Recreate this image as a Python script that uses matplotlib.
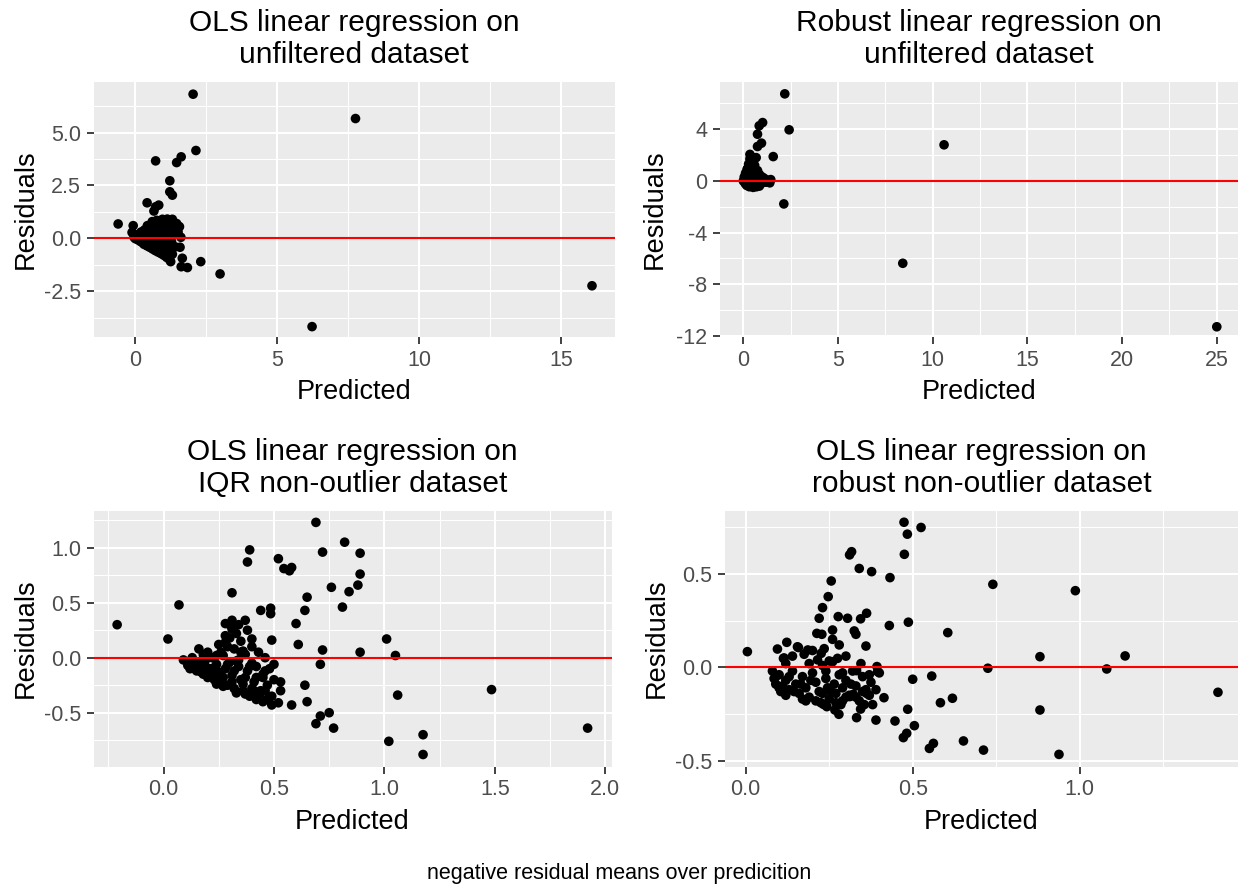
import matplotlib
matplotlib.use("Agg")
import matplotlib.pyplot as plt
import numpy as np

plt.rcParams['font.family'] = ['Liberation Sans', 'DejaVu Sans']

W, H = 1238, 888

# ---------------- data ----------------
# Panel 1: OLS on unfiltered dataset
p1_x = [2.03, 7.75, 6.22, 16.08, 2.13, 1.61, 1.45, 0.71, 1.21, 1.21, 1.30, 0.41, 0.71, 0.82, 0.65,
        -0.61, -0.08, -0.12, 2.98, 2.30, 1.83, 1.61, 1.65, 1.57, 1.53, 1.12, 0.59, 1.24,
        -0.05, 0.0, 0.05, 0.1, 0.12, 0.15, 0.18, 0.2, 0.22, 0.25, 0.28, 0.3, 0.32, 0.35, 0.37, 0.4,
        0.42, 0.45, 0.47, 0.5, 0.52, 0.55, 0.57, 0.6, 0.62, 0.65, 0.67, 0.7, 0.72, 0.75, 0.77, 0.8,
        0.82, 0.85, 0.87, 0.9, 0.92, 0.95, 0.97, 1.0, 1.02, 1.05, 1.07, 1.1, 1.12, 1.15, 1.17, 1.2,
        1.22, 1.25, 1.27, 1.3, 1.35, 1.38, 1.4, 1.45, 1.5, 1.55, 1.6, 1.3, 0.95, 0.75, 0.6, 0.3,
        0.45, 0.65, 0.85, 1.05, 1.25, 0.2, 0.1, 0.35, 0.55, 0.8, 1.0, 0.7, 0.4, 1.15, 0.9]
p1_y = [6.81, 5.66, -4.17, -2.24, 4.15, 3.85, 3.58, 3.66, 2.72, 2.20, 2.04, 1.68, 1.49, 1.57, 1.29,
        0.68, 0.60, 0.28, -1.68, -1.10, -1.38, -1.34, -0.94, -0.42, 0.55, 0.91, 0.79, -1.10,
        0.05, -0.02, 0.1, -0.08, 0.2, 0.0, -0.15, 0.3, 0.12, -0.2, 0.05, -0.28, 0.4, 0.18, -0.1, -0.35,
        0.6, 0.25, -0.02, -0.42, 0.1, 0.45, -0.25, -0.5, 0.7, 0.3, -0.12, -0.58, 0.05, 0.55, -0.35, -0.65,
        0.2, 0.75, -0.2, -0.72, 0.4, 0.0, -0.5, -0.8, 0.6, 0.15, -0.3, -0.9, 0.85, 0.35, -0.6, -1.0,
        0.1, 0.65, -0.15, -0.75, 0.45, 0.2, -0.4, 0.7, 0.3, 0.55, 0.05, 0.9, 0.9, 0.85, 0.35, 0.15,
        -0.2, -0.4, -0.55, -0.7, -0.45, -0.05, 0.05, -0.22, -0.3, 0.0, 0.3, 0.15, 0.08, -0.2, -0.3]

# Panel 2: robust regression on unfiltered dataset
p2_x = [2.19, 2.42, 1.02, 0.84, 0.75, 0.96, 0.75, 1.58, 2.14, 8.42, 10.6, 25.0,
        0.0, 0.05, 0.1, 0.12, 0.15, 0.18, 0.2, 0.22, 0.25, 0.28, 0.3, 0.32, 0.35, 0.35, 0.38, 0.4,
        0.42, 0.45, 0.48, 0.5, 0.52, 0.55, 0.58, 0.6, 0.62, 0.65, 0.68, 0.7, 0.72, 0.75, 0.78, 0.8,
        0.85, 0.9, 0.95, 1.0, 1.05, 1.1, 1.2, 1.3, 1.4, 1.45, 0.25, 0.45, 0.6, 0.15, 0.3, 0.55, 0.85, 0.4]
p2_y = [6.73, 3.95, 4.51, 4.26, 3.61, 2.92, 2.66, 1.88, -1.78, -6.37, 2.79, -11.28,
        0.0, 0.3, -0.2, 0.6, 0.1, -0.35, 0.9, 0.4, -0.1, 1.3, 0.2, -0.45, 1.7, 2.05, 0.7, 0.0,
        1.1, -0.3, 1.5, 0.4, -0.5, 0.9, 0.15, 1.2, -0.2, 0.55, 1.8, -0.45, 0.3, 0.8, 0.0, -0.3,
        0.5, 0.15, -0.2, 0.3, -0.05, 0.2, -0.1, 0.05, -0.15, 0.1, 1.0, 0.6, 0.7, 0.35, -0.25, -0.1, -0.4, 1.9]

# Panel 3: OLS on IQR non-outlier dataset
p3_x = [-0.21, 0.02, 0.07, 0.39, 0.38, 0.31, 0.52, 0.545, 0.57, 0.58, 0.69, 0.72, 0.82, 0.89, 0.89,
        0.88, 0.84, 0.76, 0.81, 0.65, 0.64, 0.60, 0.44, 0.485, 0.485, 0.37, 0.31, 0.28, 0.61, 0.49,
        0.40, 0.72, 0.89, 1.01, 1.05, 1.06, 1.02, 0.71, 0.64, 0.65, 0.58, 0.71, 0.75, 0.69, 0.77,
        0.53, 0.53, 0.52, 0.49, 0.46, 0.45, 1.485, 1.175, 1.175, 1.92,
        0.09, 0.11, 0.12, 0.13, 0.14, 0.15, 0.16, 0.17, 0.18, 0.19, 0.2, 0.2, 0.21, 0.22, 0.23, 0.24,
        0.25, 0.25, 0.26, 0.27, 0.28, 0.28, 0.29, 0.3, 0.3, 0.31, 0.32, 0.32, 0.33, 0.34, 0.35, 0.35,
        0.36, 0.37, 0.38, 0.38, 0.39, 0.4, 0.4, 0.41, 0.42, 0.43, 0.44, 0.45, 0.45, 0.46, 0.47, 0.48,
        0.27, 0.22, 0.33, 0.18, 0.36, 0.42, 0.3, 0.26, 0.34, 0.16, 0.24, 0.29, 0.37, 0.4, 0.43, 0.5, 0.5,
        0.12, 0.14, 0.17, 0.19, 0.21, 0.23, 0.24, 0.26, 0.27, 0.29, 0.31, 0.32, 0.33, 0.34, 0.36, 0.37,
        0.39, 0.41, 0.42, 0.44, 0.46, 0.47, 0.49, 0.48, 0.35, 0.28, 0.31]
p3_y = [0.30, 0.17, 0.48, 0.98, 0.87, 0.59, 0.90, 0.81, 0.79, 0.82, 1.23, 0.96, 1.05, 0.95, 0.76,
        0.66, 0.60, 0.64, 0.46, 0.55, 0.43, 0.31, 0.43, 0.45, 0.40, 0.34, 0.34, 0.31, 0.12, 0.16,
        0.17, 0.07, 0.05, 0.17, 0.02, -0.34, -0.76, -0.06, -0.25, -0.40, -0.43, -0.53, -0.50, -0.60, -0.64,
        -0.22, -0.30, -0.41, -0.43, -0.12, -0.18, -0.29, -0.70, -0.88, -0.64,
        -0.02, -0.07, -0.1, 0.0, -0.05, -0.12, 0.08, -0.03, -0.15, -0.08, 0.05, -0.18, -0.1, 0.0, -0.2, -0.06,
        0.12, -0.13, -0.22, 0.02, -0.1, 0.2, -0.25, -0.04, 0.3, -0.16, 0.08, -0.28, 0.22, -0.08, -0.2, 0.15,
        -0.3, 0.03, -0.12, 0.25, -0.35, -0.05, 0.1, -0.22, -0.38, 0.05, -0.3, -0.15, -0.4, 0.0, -0.25, -0.36,
        -0.18, -0.14, -0.03, 0.03, 0.06, -0.08, 0.18, 0.05, 0.3, -0.09, -0.24, 0.1, -0.18, -0.28, -0.33, -0.2, -0.06,
        -0.04, -0.1, -0.13, -0.02, -0.16, -0.09, 0.02, -0.16, -0.26, -0.06, -0.22, -0.12, -0.32, -0.02, -0.24, -0.33,
        -0.08, -0.3, -0.18, -0.37, -0.3, -0.38, -0.35, -0.1, 0.05, 0.14, 0.26]

# Panel 4: OLS on robust non-outlier dataset
p4_x = [0.005, 0.474, 0.484, 0.525, 0.475, 0.311, 0.317, 0.34, 0.377, 0.432, 0.256, 0.74, 0.247,
        0.23, 0.22, 0.277, 0.305, 0.344, 0.362, 0.43, 0.487, 0.605, 0.213, 0.228, 0.26, 0.325, 0.33,
        0.36, 0.095, 0.123, 0.158, 0.186, 0.113, 0.226, 0.275, 0.25, 0.393, 0.395, 0.37, 0.332, 0.5,
        0.557, 0.725, 0.881, 0.881, 0.619, 0.583, 0.414, 0.485, 0.505, 0.482, 0.472, 0.562, 0.55,
        0.652, 0.712, 0.447, 0.39, 0.332, 0.344, 0.279, 0.267, 0.233, 0.243, 0.29, 0.312, 0.322, 0.362,
        0.987, 0.938, 1.081, 1.136, 1.414,
        0.08, 0.085, 0.09, 0.1, 0.11, 0.115, 0.12, 0.13, 0.14, 0.15, 0.155, 0.16, 0.17, 0.175, 0.18,
        0.19, 0.2, 0.2, 0.21, 0.22, 0.225, 0.23, 0.24, 0.245, 0.25, 0.26, 0.265, 0.27, 0.28, 0.285,
        0.29, 0.3, 0.31, 0.32, 0.33, 0.34, 0.35, 0.36, 0.14, 0.19, 0.235, 0.28, 0.26, 0.3, 0.17, 0.12,
        0.105, 0.215, 0.345, 0.375, 0.4, 0.39, 0.38,
        0.09, 0.1, 0.12, 0.13, 0.145, 0.165, 0.18, 0.195, 0.21, 0.23, 0.24, 0.255, 0.27, 0.29, 0.3,
        0.315, 0.33, 0.35, 0.37, 0.355]
p4_y = [0.084, 0.778, 0.714, 0.75, 0.606, 0.603, 0.62, 0.53, 0.513, 0.481, 0.463, 0.445, 0.379,
        0.32, 0.263, 0.272, 0.263, 0.26, 0.29, 0.224, 0.242, 0.186, 0.182, 0.177, 0.2, 0.195, 0.177,
        0.114, 0.098, 0.134, 0.106, 0.093, 0.048, 0.075, 0.048, 0.034, 0.004, -0.023, -0.04, -0.018, -0.064,
        -0.047, -0.005, 0.057, -0.229, -0.166, -0.19, -0.163, -0.225, -0.313, -0.354, -0.377, -0.408, -0.435,
        -0.395, -0.444, -0.288, -0.283, -0.27, -0.224, -0.252, -0.229, -0.199, -0.211, -0.18, -0.157, -0.145, -0.14,
        0.411, -0.467, -0.009, 0.061, -0.134,
        -0.02, -0.06, -0.09, -0.04, -0.1, 0.05, -0.07, -0.12, -0.02, -0.09, 0.11, -0.14, -0.05, 0.07, -0.11,
        -0.16, -0.03, 0.09, -0.08, -0.13, -0.19, 0.01, -0.06, -0.11, -0.17, 0.03, -0.09, -0.14, -0.04, -0.2,
        -0.11, -0.07, -0.15, -0.02, -0.1, -0.18, -0.05, -0.12, 0.06, 0.02, 0.1, 0.12, 0.15, 0.06, -0.17, 0.02,
        -0.13, 0.04, 0.02, -0.08, -0.03, -0.12, -0.2,
        -0.05, -0.11, -0.15, -0.05, -0.13, -0.09, -0.18, -0.07, -0.18, -0.14, -0.02, -0.13, -0.19, -0.03, -0.16,
        -0.09, -0.16, -0.13, -0.15, -0.2]

titles = ["OLS linear regression on\nunfiltered dataset",
          "Robust linear regression on\nunfiltered dataset",
          "OLS linear regression on\nIQR non-outlier dataset",
          "OLS linear regression on\nrobust non-outlier dataset"]

p1_xticks = [0, 5, 10, 15]
p1_xlabels = ["0", "5", "10", "15"]
p1_yticks = [-2.5, 0.0, 2.5, 5.0]
p1_ylabels = ["-2.5", "0.0", "2.5", "5.0"]
p2_xticks = [0, 5, 10, 15, 20, 25]
p2_xlabels = ["0", "5", "10", "15", "20", "25"]
p2_yticks = [-12, -8, -4, 0, 4]
p2_ylabels = ["-12", "-8", "-4", "0", "4"]
p3_xticks = [0.0, 0.5, 1.0, 1.5, 2.0]
p3_xlabels = ["0.0", "0.5", "1.0", "1.5", "2.0"]
p3_yticks = [-0.5, 0.0, 0.5, 1.0]
p3_ylabels = ["-0.5", "0.0", "0.5", "1.0"]
p4_xticks = [0.0, 0.5, 1.0]
p4_xlabels = ["0.0", "0.5", "1.0"]
p4_yticks = [-0.5, 0.0, 0.5]
p4_ylabels = ["-0.5", "0.0", "0.5"]

caption = "negative residual means over predicition"

# ---------------- layout (pixel boxes: left, right, top, bottom) ----------------
boxes = [(93.5, 615, 81.7, 337), (720, 1238, 81.7, 337),
         (93.5, 611.7, 510.5, 766.5), (725, 1238, 510.5, 766.5)]
xlims = [(-1.478, 16.89), (-1.23, 26.12), (-0.317, 2.029), (-0.062, 1.474)]
ylims = [(-4.66, 7.40), (-12.07, 7.67), (-0.989, 1.338), (-0.532, 0.841)]
ylab_x = [26, 655, 26, 657]

fig = plt.figure(figsize=(W / 100, H / 100), dpi=100)
fig.patch.set_facecolor("white")

def fx(px):
    return px / W

def fy(py):
    return 1 - py / H

panels = [(p1_x, p1_y, p1_xticks, p1_xlabels, p1_yticks, p1_ylabels),
          (p2_x, p2_y, p2_xticks, p2_xlabels, p2_yticks, p2_ylabels),
          (p3_x, p3_y, p3_xticks, p3_xlabels, p3_yticks, p3_ylabels),
          (p4_x, p4_y, p4_xticks, p4_xlabels, p4_yticks, p4_ylabels)]

def minor_breaks(ticks, lim):
    step = ticks[1] - ticks[0]
    out = []
    t = ticks[0] - step / 2
    while t > lim[0]:
        out.append(t)
        t -= step
    t = ticks[0] + step / 2
    while t < lim[1]:
        out.append(t)
        t += step
    return [m for m in out if lim[0] < m < lim[1]]

for i, (xs, ys, xt, xl, yt, yl) in enumerate(panels):
    l, r, t, b = boxes[i]
    ax = fig.add_axes([fx(l), fy(b), fx(r) - fx(l), (b - t) / H])
    ax.set_facecolor("#EBEBEB")
    for s in ax.spines.values():
        s.set_visible(False)
    ax.set_xlim(*xlims[i])
    ax.set_ylim(*ylims[i])
    ax.set_xticks(xt)
    ax.set_xticklabels(xl)
    ax.set_yticks(yt)
    ax.set_yticklabels(yl)
    ax.set_xticks(minor_breaks(xt, xlims[i]), minor=True)
    ax.set_yticks(minor_breaks(yt, ylims[i]), minor=True)
    ax.grid(which="major", color="white", linewidth=1.5, zorder=0)
    ax.grid(which="minor", color="white", linewidth=0.75, zorder=0)
    ax.set_axisbelow(True)
    ax.tick_params(which="major", length=5, width=1.3, color="#333333",
                   labelsize=15.5, labelcolor="#4D4D4D", pad=4)
    ax.tick_params(which="minor", length=0)
    ax.scatter(xs, ys, s=48, color="black", edgecolors="none", zorder=3)
    ax.axhline(0, color="#FF0000", linewidth=1.5, zorder=4)

    cx = (l + r) / 2
    line1, line2 = titles[i].split("\n")
    fig.text(fx(cx), fy(t - 51), line1, ha="center", va="baseline", fontsize=21.5, color="black")
    fig.text(fx(cx), fy(t - 19), line2, ha="center", va="baseline", fontsize=21.5, color="black")
    fig.text(fx(cx), fy(b + 55), "Predicted", ha="center", va="center", fontsize=19.5, color="black")
    fig.text(fx(ylab_x[i]), fy((t + b) / 2), "Residuals", ha="center", va="center",
             rotation=90, fontsize=19.5, color="black")

fig.text(0.5, fy(873), caption, ha="center", va="center", fontsize=15.5, color="black")

fig.savefig("out.png", dpi=100, facecolor="white")
